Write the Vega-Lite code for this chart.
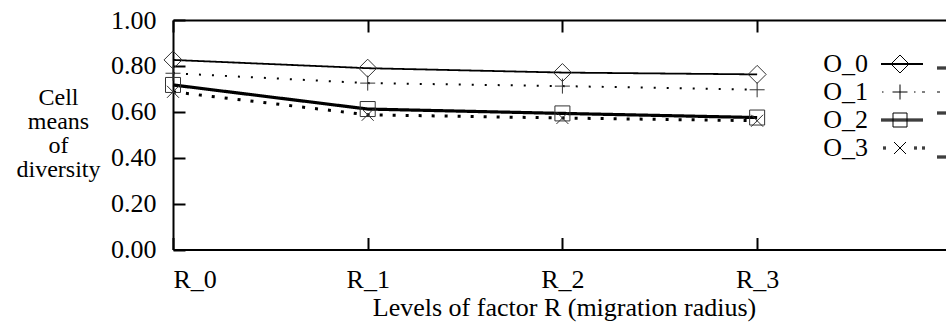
{
  "$schema": "https://vega.github.io/schema/vega-lite/v6.json",
  "width": 773,
  "height": 229.5,
  "autosize": {"type": "none"},
  "padding": {"left": 173, "top": 20, "right": 0, "bottom": 72.5},
  "background": "white",
  "config": {
    "view": {"stroke": null},
    "font": "Liberation Serif",
    "axis": {
      "domainColor": "black", "domainWidth": 2,
      "tickColor": "black", "tickWidth": 2,
      "labelColor": "black", "titleColor": "black",
      "labelFont": "Liberation Serif", "titleFont": "Liberation Serif",
      "labelFontSize": 26, "titleFontSize": 26, "titleFontWeight": "normal",
      "grid": false
    }
  },
  "datasets": {
    "cells": [
      {"series": "O_0", "r": 0, "mean": 0.826},
      {"series": "O_0", "r": 1, "mean": 0.790},
      {"series": "O_0", "r": 2, "mean": 0.771},
      {"series": "O_0", "r": 3, "mean": 0.763},
      {"series": "O_1", "r": 0, "mean": 0.768},
      {"series": "O_1", "r": 1, "mean": 0.725},
      {"series": "O_1", "r": 2, "mean": 0.712},
      {"series": "O_1", "r": 3, "mean": 0.696},
      {"series": "O_2", "r": 0, "mean": 0.717},
      {"series": "O_2", "r": 1, "mean": 0.612},
      {"series": "O_2", "r": 2, "mean": 0.593},
      {"series": "O_2", "r": 3, "mean": 0.575},
      {"series": "O_3", "r": 0, "mean": 0.687},
      {"series": "O_3", "r": 1, "mean": 0.587},
      {"series": "O_3", "r": 2, "mean": 0.573},
      {"series": "O_3", "r": 3, "mean": 0.561}
    ]
  },
  "layer": [
    {
      "data": {"name": "cells"},
      "mark": {"type": "line", "color": "black"},
      "encoding": {
        "x": {
          "field": "r", "type": "quantitative",
          "scale": {"domain": [0, 3.97], "nice": false, "zero": false},
          "axis": {
            "orient": "bottom", "values": [0, 1, 2, 3],
            "labelExpr": "'R_' + datum.value",
            "tickSize": -12, "labelPadding": 42, "labelBaseline": "middle",
            "title": "Levels of factor R (migration radius)",
            "titleX": 391, "titleY": 58, "titleBaseline": "middle", "titleAlign": "center"
          }
        },
        "y": {
          "field": "mean", "type": "quantitative",
          "scale": {"domain": [0, 1], "nice": false, "zero": false},
          "axis": {
            "values": [0, 0.2, 0.4, 0.6, 0.8, 1], "format": ".2f",
            "tickSize": -12, "labelPadding": 29, "labelBaseline": "middle",
            "title": ["Cell", "means", "of", "diversity"],
            "titleAngle": 0, "titleAlign": "center", "titleBaseline": "middle",
            "titleFontSize": 24,
            "titleX": -115, "titleY": 77, "titleLineHeight": 24
          }
        },
        "strokeDash": {
          "field": "series", "type": "nominal",
          "scale": {"domain": ["O_0", "O_1", "O_2", "O_3"], "range": [[1, 0], [2, 11], [1, 0], [3, 10]]},
          "legend": null
        },
        "strokeWidth": {
          "field": "series", "type": "nominal",
          "scale": {"type": "ordinal", "domain": ["O_0", "O_1", "O_2", "O_3"], "range": [1.8, 2, 3.2, 3]},
          "legend": null
        }
      }
    },
    {
      "data": {"name": "cells"},
      "mark": {"type": "point", "filled": false, "stroke": "#333333", "strokeWidth": 1, "opacity": 1},
      "encoding": {
        "x": {
          "field": "r", "type": "quantitative",
          "axis": {"orient": "top", "values": [0, 1, 2, 3], "labels": false, "tickSize": -12, "title": null}
        },
        "y": {"field": "mean", "type": "quantitative"},
        "shape": {
          "field": "series", "type": "nominal",
          "scale": {
            "domain": ["O_0", "O_1", "O_2", "O_3"],
            "range": ["M0,-1L1,0L0,1L-1,0Z", "M-1,0L1,0M0,-1L0,1", "M-1,-1L1,-1L1,1L-1,1Z", "M-1,-1L1,1M-1,1L1,-1"]
          },
          "legend": null
        },
        "size": {
          "field": "series", "type": "nominal",
          "scale": {"type": "ordinal", "domain": ["O_0", "O_1", "O_2", "O_3"], "range": [324, 225, 225, 144]},
          "legend": null
        }
      }
    },
    {
      "data": {"name": "cells"},
      "transform": [{"filter": "datum.r > 10"}],
      "mark": {"type": "point", "filled": false, "stroke": "black", "strokeWidth": 1},
      "encoding": {
        "shape": {
          "field": "series", "type": "nominal",
          "scale": {
            "domain": ["O_0", "O_1", "O_2", "O_3"],
            "range": [
              "M-2.6,-0.04L0.76,-0.04M-2.6,0.04L0.76,0.04M-1.8,0L-1.08,-0.72L-0.36,0L-1.08,0.72ZM1.88,0.24L2.6,0.24M1.88,0.32L2.6,0.32M1.88,0.4L2.6,0.4",
              "M-2.52,0L-2.4,0M-1.68,0L-0.48,0M-1.08,-0.6L-1.08,0.6M0.04,0L0.16,0M0.68,0L0.92,0M1.88,0L2.12,0",
              "M-2.6,-0.08L0.76,-0.08M-2.6,0L0.76,0M-2.6,0.08L0.76,0.08M-1.64,-0.56L-0.52,-0.56L-0.52,0.56L-1.64,0.56ZM1.88,-0.64L2.6,-0.64M1.88,-0.56L2.6,-0.56M1.88,-0.48L2.6,-0.48",
              "M-1.56,-0.48L-0.6,0.48M-1.56,0.48L-0.6,-0.48M-2.44,-0.08L-2.2,-0.08M-2.44,0L-2.2,0M-2.44,0.08L-2.2,0.08M0.04,-0.08L0.28,-0.08M0.04,0L0.28,0M0.04,0.08L0.28,0.08M0.68,-0.08L0.92,-0.08M0.68,0L0.92,0M0.68,0.08L0.92,0.08M1.88,0.64L2.6,0.64M1.88,0.72L2.6,0.72M1.88,0.8L2.6,0.8"
            ]
          },
          "legend": {
            "orient": "none", "legendX": 727.5, "legendY": 31,
            "title": null, "padding": 0,
            "labelFont": "Liberation Serif", "labelFontSize": 26, "labelColor": "black",
            "labelAlign": "right", "labelOffset": -58.5, "labelBaseline": "middle",
            "symbolSize": 625, "symbolStrokeColor": "black", "symbolStrokeWidth": 1,
            "symbolFillColor": "transparent", "symbolOpacity": 1, "rowPadding": 2
          }
        }
      }
    }
  ],
  "resolve": {"scale": {"shape": "independent", "size": "independent"}, "axis": {"x": "independent"}}
}
